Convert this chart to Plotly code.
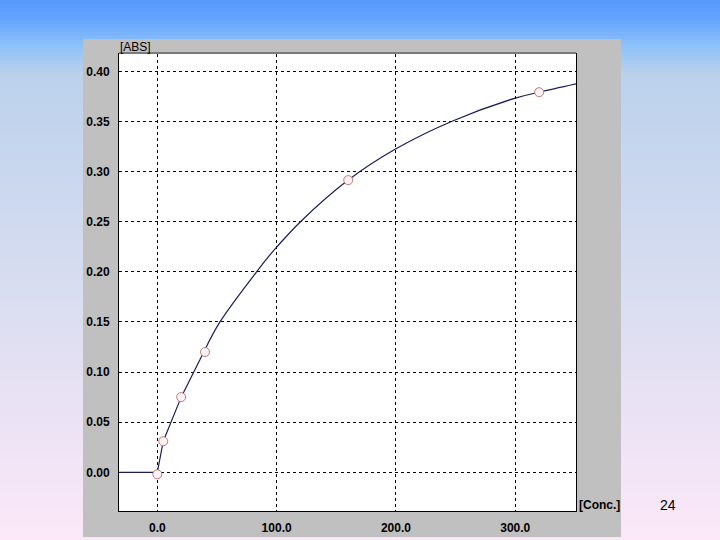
import plotly.graph_objects as go

# ---- data ----
std_conc = [0, 5, 20, 40, 160, 320]
std_abs = [-0.002, 0.031, 0.075, 0.120, 0.2915, 0.3792]

# straight part of the fitted line (baseline and first segments)
low_x = [-32.1, 0, 5, 20, 40]
low_y = [0.0, 0.0, 0.031, 0.075, 0.1225]

# curved part of the fitted line
curve_x = [40, 52.5, 83.2, 94.4, 100, 120, 160, 200, 246.5, 300, 320, 351]
curve_y = [0.1225, 0.150, 0.200, 0.2168, 0.2246, 0.250, 0.2915,
           0.3227, 0.350, 0.3733, 0.3792, 0.3875]

x_ticks = [0, 100, 200, 300]
x_tick_text = ["0.0", "100.0", "200.0", "300.0"]
y_ticks = [0.0, 0.05, 0.10, 0.15, 0.20, 0.25, 0.30, 0.35, 0.40]
y_tick_text = ["0.00", "0.05", "0.10", "0.15", "0.20", "0.25", "0.30", "0.35", "0.40"]

# ---- layout geometry (pixels) ----
W, H = 720, 540
PL, PR, PT, PB = 119, 576, 54, 511
pw, ph = PR - PL, PB - PT


def px(X):
    return (X - PL) / pw


def py(Y):
    return (PB - Y) / ph


shapes = []
# slide background gradient
stops = [(0, (88, 153, 255)), (18, (98, 162, 255)), (45, (140, 193, 250)),
         (75, (188, 210, 236)), (270, (214, 220, 240)), (540, (252, 232, 248))]


def col(y):
    for (y0, c0), (y1, c1) in zip(stops[:-1], stops[1:]):
        if y0 <= y <= y1:
            t = (y - y0) / (y1 - y0)
            return "rgb(%d,%d,%d)" % tuple(round(a + (b - a) * t) for a, b in zip(c0, c1))
    return "rgb(%d,%d,%d)" % stops[-1][1]


step = 4
for y in range(0, H, step):
    shapes.append(dict(type="rect", xref="paper", yref="paper", layer="below",
                       x0=px(0), x1=px(W), y0=py(y + step + 0.5), y1=py(y),
                       fillcolor=col(y + step / 2), line=dict(width=0)))
# gray panel
shapes.append(dict(type="rect", xref="paper", yref="paper", layer="below",
                   x0=px(83), x1=px(621), y0=py(537), y1=py(39),
                   fillcolor="#c0c0c0", line=dict(width=0)))
# white plot area
shapes.append(dict(type="rect", xref="paper", yref="paper", layer="below",
                   x0=0, x1=1, y0=0, y1=1, fillcolor="white", line=dict(width=0)))
# top border gray
shapes.append(dict(type="line", xref="paper", yref="paper", layer="above",
                   x0=0, x1=1, y0=1.002, y1=1.002, line=dict(color="#7a7a7a", width=2)))

fig = go.Figure()
fig.add_trace(go.Scatter(x=low_x, y=low_y, mode="lines",
                         line=dict(color="#1c1c5c", width=1.2), hoverinfo="skip"))
fig.add_trace(go.Scatter(x=curve_x, y=curve_y, mode="lines",
                         line=dict(color="#1c1c5c", width=1.2, shape="spline", smoothing=1.0),
                         hoverinfo="skip"))
fig.add_trace(go.Scatter(x=std_conc, y=std_abs, mode="markers",
                         marker=dict(size=9, color="#fff4f4", line=dict(color="#c07878", width=1))))

axis_font = dict(family="Liberation Sans, Arial", size=12, color="black")
fig.update_xaxes(range=[-32.1, 350.9], tickvals=x_ticks, ticktext=x_tick_text, automargin=False,
                 showgrid=True, gridcolor="black", gridwidth=1, griddash="3px,3px",
                 zeroline=False, showline=True, linecolor="black", linewidth=1, mirror=True,
                 ticks="", tickfont=dict(axis_font, weight="bold"), ticklabelstandoff=6)
fig.update_yaxes(range=[-0.0386, 0.4173], tickvals=y_ticks, ticktext=y_tick_text, automargin=False,
                 showgrid=True, gridcolor="black", gridwidth=1, griddash="3px,3px",
                 zeroline=False, showline=True, linecolor="black", linewidth=1, mirror=True,
                 ticks="", tickfont=dict(axis_font, weight="bold"), ticklabelstandoff=6)

annotations = [
    dict(text="[ABS]", xref="paper", yref="paper", x=px(118), y=py(47), xanchor="left",
         yanchor="middle", showarrow=False, font=dict(family="Liberation Sans, Arial", size=12, color="black")),
    dict(text="<b>[Conc.]</b>", xref="paper", yref="paper", x=px(577), y=py(505), xanchor="left",
         yanchor="middle", showarrow=False, font=dict(family="Liberation Sans, Arial", size=12, color="black")),
    dict(text="24", xref="paper", yref="paper", x=px(668), y=py(505), xanchor="center",
         yanchor="middle", showarrow=False, font=dict(family="Liberation Sans, Arial", size=14, color="black")),
]

fig.update_layout(width=W, height=H, margin=dict(l=PL, r=W - PR, t=PT, b=H - PB),
                  plot_bgcolor="rgba(0,0,0,0)", paper_bgcolor="white", showlegend=False,
                  shapes=shapes, annotations=annotations)

fig.write_html("out.html", config={"displayModeBar": False},
               post_script="document.body.style.margin='0';")
